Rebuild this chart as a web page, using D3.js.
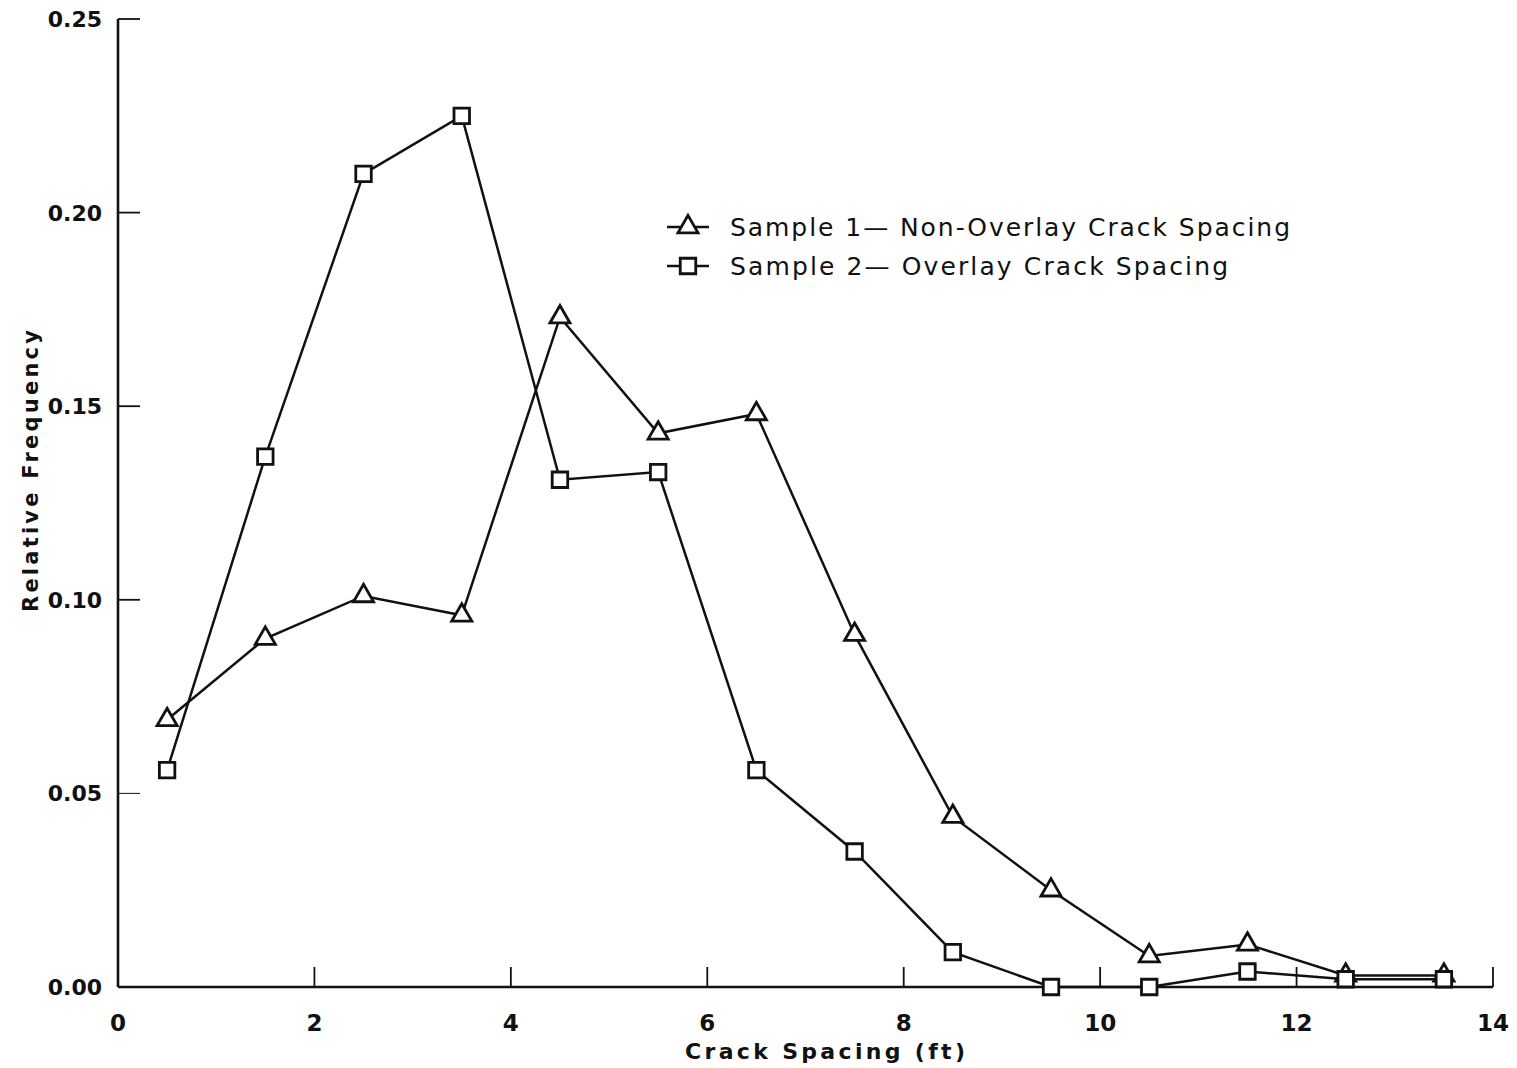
<!DOCTYPE html>
<html><head><meta charset="utf-8">
<script src="https://cdn.jsdelivr.net/npm/d3@7"></script>
<style>body{margin:0;background:#fff}svg{display:block}</style>
</head><body>
<svg id="chart" width="1517" height="1068"></svg>
<script>
const spacing = [0.5,1.5,2.5,3.5,4.5,5.5,6.5,7.5,8.5,9.5,10.5,11.5,12.5,13.5];
const sample1 = [0.069,0.090,0.101,0.096,0.173,0.143,0.148,0.091,0.044,0.025,0.008,0.011,0.003,0.003];
const sample2 = [0.056,0.137,0.210,0.225,0.131,0.133,0.056,0.035,0.009,0.000,0.000,0.004,0.002,0.002];
const xTicks = [0,2,4,6,8,10,12,14];
const yTicks = [0.00,0.05,0.10,0.15,0.20,0.25];
const legendLabels = ["Sample 1\u2014 Non-Overlay Crack Spacing","Sample 2\u2014 Overlay Crack Spacing"];
const xTitle = "Crack Spacing (ft)";
const yTitle = "Relative Frequency";

const svg = d3.select("#chart");
const x = d3.scaleLinear().domain([0,14]).range([118,1493]);
const y = d3.scaleLinear().domain([0,0.25]).range([987,19]);
const ink = "#111";

// axes
svg.append("line").attr("x1",x(0)).attr("x2",x(0)).attr("y1",y(0.25)).attr("y2",y(0))
  .attr("stroke",ink).attr("stroke-width",2.6);
svg.append("line").attr("x1",x(0)).attr("x2",x(14)).attr("y1",y(0)).attr("y2",y(0))
  .attr("stroke",ink).attr("stroke-width",2.6);
// x ticks (inward)
svg.selectAll(".xt").data(xTicks.filter(d=>d>0)).enter().append("line")
  .attr("x1",d=>x(d)).attr("x2",d=>x(d)).attr("y1",y(0)).attr("y2",y(0)-20)
  .attr("stroke",ink).attr("stroke-width",1.8);
svg.selectAll(".xl").data(xTicks).enter().append("text")
  .attr("x",d=>x(d)).attr("y",y(0)+44).attr("text-anchor","middle")
  .attr("font-family","DejaVu Sans").attr("font-weight","bold").attr("font-size",23)
  .attr("fill",ink).text(d=>d);
// y ticks (inward)
svg.selectAll(".yt").data(yTicks.filter(d=>d>0)).enter().append("line")
  .attr("x1",x(0)).attr("x2",x(0)+22).attr("y1",d=>y(d)).attr("y2",d=>y(d))
  .attr("stroke",ink).attr("stroke-width",d=>d===0.05?1:1.8);
svg.selectAll(".yl").data(yTicks).enter().append("text")
  .attr("x",x(0)-16).attr("y",d=>y(d)+8).attr("text-anchor","end")
  .attr("font-family","DejaVu Sans").attr("font-weight","bold").attr("font-size",22)
  .attr("fill",ink).text(d=>d.toFixed(2));

// titles
svg.append("text").attr("x",825).attr("y",1059).attr("text-anchor","middle")
  .attr("font-family","DejaVu Sans").attr("font-weight","bold").attr("font-size",22)
  .attr("textLength",280).attr("lengthAdjust","spacing").attr("fill",ink).text(xTitle);
svg.append("text").attr("transform","translate(38,471) rotate(-90)").attr("text-anchor","middle")
  .attr("font-family","DejaVu Sans").attr("font-weight","bold").attr("font-size",21)
  .attr("textLength",282).attr("lengthAdjust","spacing").attr("fill",ink).text(yTitle);

const line = d3.line().x((d,i)=>x(spacing[i])).y(d=>y(d));
const triPath = d3.symbol().type(d3.symbolTriangle).size(175)();
const sqPath = d3.symbol().type(d3.symbolSquare).size(240)();

function drawSeries(vals, symPath){
  svg.append("path").datum(vals).attr("d",line).attr("fill","none")
    .attr("stroke",ink).attr("stroke-width",2.5);
  svg.selectAll(null).data(vals).enter().append("path")
    .attr("d",symPath)
    .attr("transform",(d,i)=>`translate(${x(spacing[i])},${y(d)})`)
    .attr("fill","#fff").attr("stroke",ink).attr("stroke-width",2.8);
}
drawSeries(sample1, triPath);
drawSeries(sample2, sqPath);

// legend
const legY = [227, 266];
const legSym = [triPath, sqPath];
const legLen = [560, 498];
legendLabels.forEach((lab,i)=>{
  svg.append("line").attr("x1",667).attr("x2",709).attr("y1",legY[i]).attr("y2",legY[i])
    .attr("stroke",ink).attr("stroke-width",2.5);
  svg.append("path").attr("d",legSym[i]).attr("transform",`translate(688,${legY[i]})`)
    .attr("fill","#fff").attr("stroke",ink).attr("stroke-width",2.8);
  svg.append("text").attr("x",730).attr("y",legY[i]+9)
    .attr("font-family","DejaVu Sans").attr("font-size",25)
    .attr("textLength",legLen[i]).attr("lengthAdjust","spacing").attr("fill",ink).text(lab);
});
</script>
</body></html>
